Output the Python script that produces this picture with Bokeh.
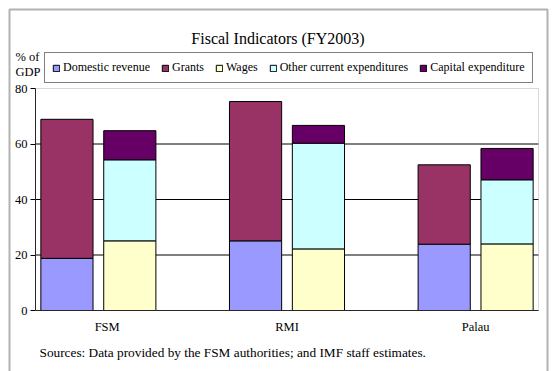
import numpy as np
from bokeh.plotting import figure
from bokeh.models import (ColumnDataSource, Range1d, FixedTicker, Legend, LegendItem,
                          Label, BoxAnnotation)
from bokeh.embed import file_html
from bokeh.resources import INLINE

# ---- data (percent of GDP, FY2003) ----
categories = ["FSM", "RMI", "Palau"]
domestic_revenue = [18.8, 25.1, 23.9]
grants = [50.1, 50.2, 28.6]
wages = [25.1, 22.2, 24.0]
other_current = [29.2, 38.1, 23.1]
capital_exp = [10.5, 6.4, 11.3]
y_ticks = [0, 20, 40, 60, 80]
grid_y = [20, 40, 60]
label_x = [1.14, 4.0, 7.0]

colors = {
    "Domestic revenue": "#9999FF",
    "Grants": "#993366",
    "Wages": "#FFFFCC",
    "Other current expenditures": "#CCFFFF",
    "Capital expenditure": "#660066",
}
FONT = "Liberation Serif"

# canvas geometry (px); plot area spans FL..FR, FT..FB
W, H = 555, 371
FL, FR, FT, FB = 35, 538, 88, 310
XMAX, YMAX = 8.0, 80.0
kx = (FR - FL) / XMAX
ky = (FB - FT) / YMAX

p = figure(width=W, height=H, output_backend="svg", toolbar_location=None,
           x_range=Range1d(-FL / kx, XMAX + (W - FR) / kx),
           y_range=Range1d(-(H - FB) / ky, YMAX + FT / ky),
           min_border_left=0, min_border_right=0,
           min_border_top=0, min_border_bottom=0,
           background_fill_color="white", border_fill_color="white")
p.outline_line_color = None
p.xgrid.visible = False
p.ygrid.visible = False

# gridlines
p.segment(x0=[0] * len(grid_y), x1=[XMAX] * len(grid_y), y0=grid_y, y1=grid_y,
          line_color="black", line_width=1)

n = len(categories)
g = np.arange(n)
x_rev = 3 * g + 0.5
x_exp = 3 * g + 1.5
bw = 0.83

def stack(xs, series, names):
    bottoms = np.zeros(len(xs))
    rends = {}
    for vals, name in zip(series, names):
        vals = np.array(vals, dtype=float)
        src = ColumnDataSource(dict(x=xs, bottom=bottoms.copy(), top=bottoms + vals))
        r = p.vbar(x="x", bottom="bottom", top="top", width=bw, source=src,
                   fill_color=colors[name], line_color="black", line_width=1)
        rends[name] = r
        bottoms = bottoms + vals
    return rends

r1 = stack(x_rev, [domestic_revenue, grants], ["Domestic revenue", "Grants"])
r2 = stack(x_exp, [wages, other_current, capital_exp],
           ["Wages", "Other current expenditures", "Capital expenditure"])
rends = {**r1, **r2}

# plot-area outline (grey)
p.add_layout(BoxAnnotation(left=0, right=XMAX, bottom=0, top=YMAX,
                           fill_alpha=0, line_color="#808080", line_width=1))

# axes (placed inside the canvas at the plot-area edges)
yax = p.yaxis[0]
yax.fixed_location = 0
yax.bounds = (0, YMAX)
yax.ticker = FixedTicker(ticks=y_ticks)
yax.major_tick_out = 5
yax.major_tick_in = 0
yax.minor_tick_out = 0
yax.minor_tick_in = 0
yax.major_label_standoff = 3
yax.major_label_text_font = FONT
yax.major_label_text_font_size = "12.5px"
yax.major_label_text_color = "black"
yax.axis_line_color = "black"

xax = p.xaxis[0]
xax.fixed_location = 0
xax.bounds = (0, XMAX)
xax.ticker = FixedTicker(ticks=label_x)
xax.major_label_overrides = {lx: c for lx, c in zip(label_x, categories)}
xax.major_tick_out = 0
xax.major_tick_in = 0
xax.minor_tick_out = 0
xax.minor_tick_in = 0
xax.major_label_standoff = 9
xax.major_label_text_font = FONT
xax.major_label_text_font_size = "12.5px"
xax.major_label_text_color = "black"
xax.axis_line_color = "black"

def sy(Y):
    return H - Y

# outer chart border
p.add_layout(BoxAnnotation(left=9, right=547, top=sy(9), bottom=-50,
                           left_units="screen", right_units="screen",
                           top_units="screen", bottom_units="screen",
                           fill_alpha=0, line_color="black", line_width=2))

def label(X, Y, text, size, align="left"):
    p.add_layout(Label(x=X, y=sy(Y), x_units="screen", y_units="screen",
                       text=text, text_align=align, text_baseline="middle",
                       text_font=FONT, text_font_size=size, text_color="black"))

label(277.5, 38, "Fiscal Indicators (FY2003)", "16px", "center")
label(15, 56, "% of", "12.5px")
label(15, 71, "GDP", "12.5px")
label(39, 352, "Sources: Data provided by the FSM authorities; and IMF staff estimates.",
      "13.3px")

# legend
order = ["Domestic revenue", "Grants", "Wages", "Other current expenditures",
         "Capital expenditure"]
legend = Legend(items=[LegendItem(label=k, renderers=[rends[k]]) for k in order],
                orientation="horizontal", location=(44, sy(83)),
                border_line_color="black", border_line_width=1,
                background_fill_color="white", background_fill_alpha=1,
                label_text_font=FONT, label_text_font_size="12px",
                label_text_color="black", glyph_width=8, glyph_height=8,
                label_standoff=3, spacing=11, padding=7, margin=0,
                label_height=14)
p.add_layout(legend)

open("out.html", "w").write(file_html(p, INLINE))
